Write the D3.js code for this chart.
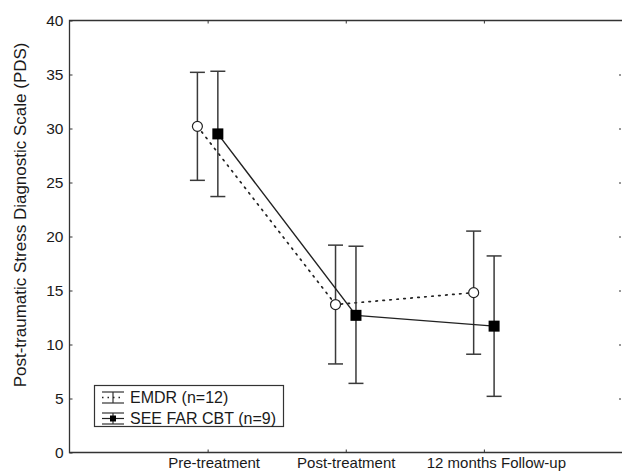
<!DOCTYPE html>
<html>
<head>
<meta charset="utf-8">
<script src="https://cdn.jsdelivr.net/npm/d3@7"></script>
<style>
  body { margin: 0; background: #fff; }
  text { font-family: "Liberation Sans", Arial, sans-serif; fill: #1a1a1a; }
</style>
</head>
<body>
<svg id="chart" width="622" height="472"></svg>
<script>
// time points on the x axis
var timepoints = ['Pre-treatment', 'Post-treatment', '12 months Follow-up'];
// small nudges of the printed labels (they are not centred in the original)
var labelNudge = [6, 0, 12];

// PDS means and error bar ends
var emdrMean  = [30.2, 13.7, 14.8];
var emdrLow   = [25.2,  8.2,  9.1];
var emdrHigh  = [35.2, 19.2, 20.5];

var cbtMean   = [29.5, 12.7, 11.7];
var cbtLow    = [23.7,  6.4,  5.2];
var cbtHigh   = [35.3, 19.1, 18.2];

var yTicks = [0, 5, 10, 15, 20, 25, 30, 35, 40];

var svg = d3.select('#chart'),
    margin = { left: 69.5, top: 20.5, right: 622, bottom: 452.5 },
    ink = '#333';

var x = d3.scaleLinear().domain([0, 4]).range([margin.left, margin.right]),
    y = d3.scaleLinear().domain([0, 40]).range([margin.bottom, margin.top]);

// frame: left, top and bottom lines (right edge falls off the picture)
svg.append('path')
  .attr('d', 'M' + margin.right + ',' + margin.top + 'H' + margin.left +
             'V' + margin.bottom + 'H' + margin.right)
  .attr('fill', 'none')
  .attr('stroke', ink)
  .attr('stroke-width', 1.3);

// y axis, ticks inward
var yAxis = svg.append('g')
  .attr('transform', 'translate(' + margin.left + ',0)')
  .call(d3.axisLeft(y).tickValues(yTicks).tickSize(-3).tickPadding(6));
yAxis.select('.domain').remove();
yAxis.selectAll('line').attr('stroke', ink);
yAxis.selectAll('text').style('font-size', '15.5px').attr('fill', '#1a1a1a');

// right side ticks
svg.append('g')
  .attr('transform', 'translate(' + (margin.right - 1) + ',0)')
  .call(d3.axisRight(y).tickValues(yTicks.slice(1, -1)).tickSize(-2).tickFormat(''))
  .call(function(g) { g.select('.domain').remove(); })
  .selectAll('line').attr('stroke', ink);

// top ticks
svg.append('g')
  .attr('transform', 'translate(0,' + margin.top + ')')
  .call(d3.axisTop(x).tickValues([1, 2, 3]).tickSize(-3).tickFormat(''))
  .call(function(g) { g.select('.domain').remove(); })
  .selectAll('line').attr('stroke', ink);

// bottom axis with category labels
var xAxis = svg.append('g')
  .attr('transform', 'translate(0,' + margin.bottom + ')')
  .call(d3.axisBottom(x).tickValues([1, 2, 3]).tickSize(-3).tickPadding(5)
          .tickFormat(function(d) { return timepoints[d - 1]; }));
xAxis.select('.domain').remove();
xAxis.selectAll('line').attr('stroke', ink);
xAxis.selectAll('text')
  .style('font-size', '15px')
  .attr('fill', '#1a1a1a')
  .attr('dx', function(d) { return labelNudge[d - 1]; });

// y axis title
svg.append('text')
  .attr('transform', 'translate(26,' + y(22) + ') rotate(-90)')
  .attr('text-anchor', 'middle')
  .style('font-size', '17px')
  .text('Post-traumatic Stress Diagnostic Scale (PDS)');

// build both series from the arrays
var series = [
  { name: 'EMDR (n=12)', mean: emdrMean, low: emdrLow, high: emdrHigh, shift: -0.074, dash: '1.5,5.5', marker: 'circle' },
  { name: 'SEE FAR CBT (n=9)', mean: cbtMean, low: cbtLow, high: cbtHigh, shift: 0.074, dash: null, marker: 'square' }
];
series.forEach(function(s) {
  s.points = s.mean.map(function(m, i) {
    return { x: i + 1 + s.shift, mean: m, low: s.low[i], high: s.high[i] };
  });
});

var line = d3.line()
  .x(function(d) { return x(d.x); })
  .y(function(d) { return y(d.mean); });

var capW = 7.5;

series.forEach(function(s) {
  var g = svg.append('g');

  // error bars
  var bars = g.selectAll('.err').data(s.points).enter().append('g').attr('class', 'err');
  bars.append('line')
    .attr('x1', function(d) { return x(d.x); })
    .attr('x2', function(d) { return x(d.x); })
    .attr('y1', function(d) { return y(d.low); })
    .attr('y2', function(d) { return y(d.high); });
  bars.append('line')
    .attr('x1', function(d) { return x(d.x) - capW; })
    .attr('x2', function(d) { return x(d.x) + capW; })
    .attr('y1', function(d) { return y(d.high); })
    .attr('y2', function(d) { return y(d.high); });
  bars.append('line')
    .attr('x1', function(d) { return x(d.x) - capW; })
    .attr('x2', function(d) { return x(d.x) + capW; })
    .attr('y1', function(d) { return y(d.low); })
    .attr('y2', function(d) { return y(d.low); });
  bars.selectAll('line').attr('stroke', '#3a3a3a').attr('stroke-width', 1.5);

  // connecting line
  g.append('path')
    .datum(s.points)
    .attr('d', line)
    .attr('fill', 'none')
    .attr('stroke', '#222')
    .attr('stroke-width', s.dash ? 1.7 : 1.4)
    .attr('stroke-linecap', s.dash ? 'round' : 'butt')
    .attr('stroke-dasharray', s.dash);

  // markers
  if (s.marker === 'circle') {
    g.selectAll('.mk').data(s.points).enter().append('circle')
      .attr('cx', function(d) { return x(d.x); })
      .attr('cy', function(d) { return y(d.mean); })
      .attr('r', 5)
      .attr('fill', '#fff')
      .attr('stroke', '#222')
      .attr('stroke-width', 1.2);
  } else {
    g.selectAll('.mk').data(s.points).enter().append('rect')
      .attr('x', function(d) { return x(d.x) - 5.5; })
      .attr('y', function(d) { return y(d.mean) - 5.5; })
      .attr('width', 11)
      .attr('height', 11)
      .attr('fill', '#000');
  }
});

// legend
var legend = svg.append('g').attr('transform', 'translate(94,385)');
legend.append('rect')
  .attr('x', 0.5).attr('y', 0.5)
  .attr('width', 189).attr('height', 41)
  .attr('fill', '#fff')
  .attr('stroke', ink)
  .attr('stroke-width', 1.2);

var rows = legend.selectAll('.row').data(series).enter().append('g')
  .attr('transform', function(d, i) { return 'translate(0,' + (12 + i * 21) + ')'; });

// mini error bar icon
rows.append('line').attr('x1', 8).attr('x2', 30).attr('y1', -5).attr('y2', -5);
rows.append('line').attr('x1', 8).attr('x2', 30).attr('y1', 6).attr('y2', 6);
rows.append('line').attr('x1', 19).attr('x2', 19).attr('y1', -5).attr('y2', 6);
rows.selectAll('line').attr('stroke', ink).attr('stroke-width', 1.2);
rows.append('line')
  .attr('x1', 8).attr('x2', 30).attr('y1', 0.5).attr('y2', 0.5)
  .attr('stroke', '#222')
  .attr('stroke-width', function(d) { return d.dash ? 1.5 : 1.2; })
  .attr('stroke-dasharray', function(d) { return d.dash ? '1.5,4' : null; });
rows.filter(function(d) { return d.marker === 'square'; })
  .append('rect')
  .attr('x', 16).attr('y', -2.5).attr('width', 6).attr('height', 6)
  .attr('fill', '#000');

rows.append('text')
  .attr('x', 36)
  .attr('y', 5.5)
  .style('font-size', '16px')
  .text(function(d) { return d.name; });
</script>
</body>
</html>
